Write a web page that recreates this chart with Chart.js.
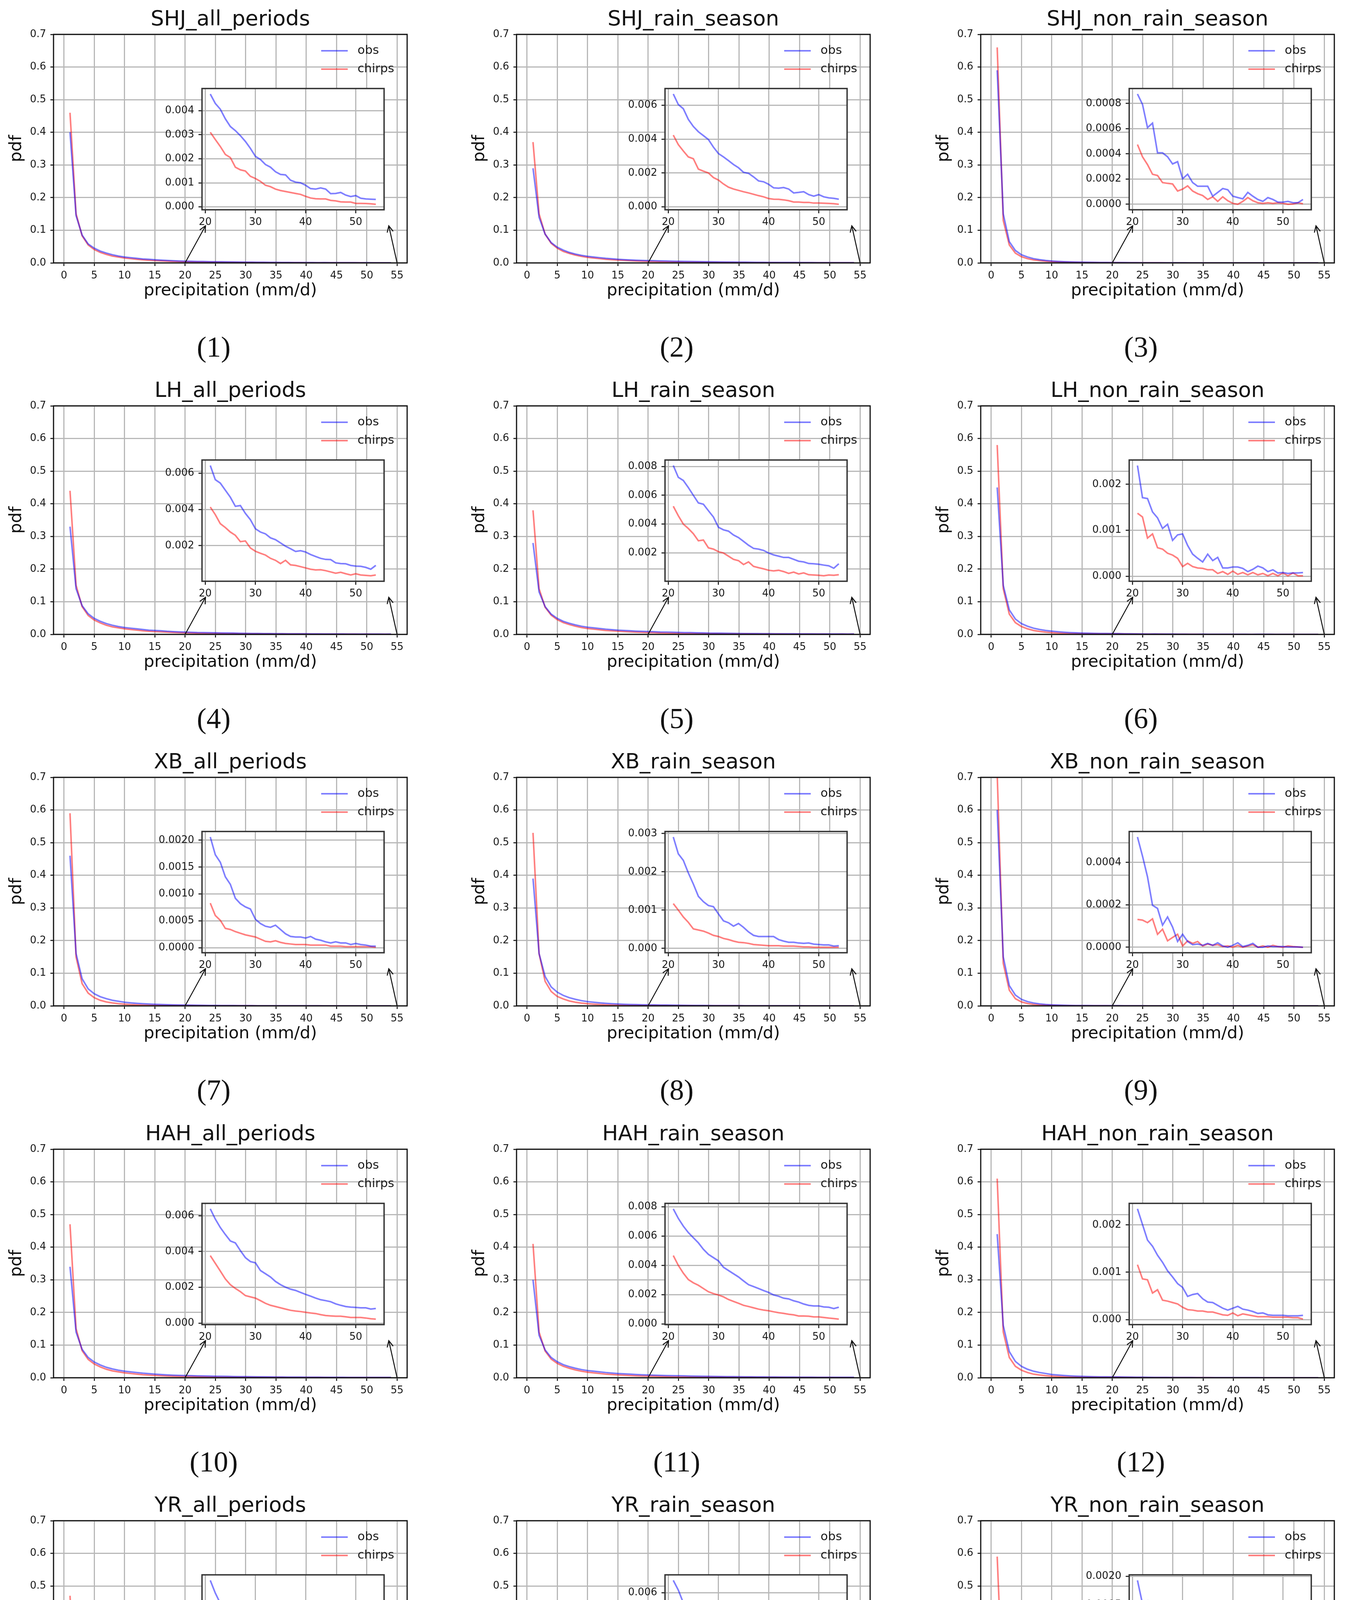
<!DOCTYPE html>
<html>
<head>
<meta charset="utf-8">
<script src="https://cdn.jsdelivr.net/npm/chart.js@4.4.1/dist/chart.umd.min.js"></script>
<style>
  html, body { margin: 0; padding: 0; background: #fff; }
  body { width: 3450px; height: 4765px; position: relative; overflow: hidden; }
  canvas { position: absolute; }
  .panel-label {
    position: absolute;
    font-family: "Liberation Serif", "DejaVu Serif", serif;
    font-size: 74px;
    color: #111;
    transform: translate(-50%, -50%);
    white-space: nowrap;
  }
</style>
</head>
<body>
<script>
// precipitation bins (mm/d)
const precip = [1,2,3,4,5,6,7,8,9,10,11,12,13,14,15,16,17,18,19,20,
  21,22,23,24,25,26,27,28,29,30,31,32,33,34,35,36,37,38,39,40,
  41,42,43,44,45,46,47,48,49,50,51,52,53,54];

const mainXTicks = [0,5,10,15,20,25,30,35,40,45,50,55];
const mainYTicks = [0,0.1,0.2,0.3,0.4,0.5,0.6,0.7];
const insetXTicks = [20,30,40,50];
const arrowFrom = [20,55];

const panelTitles = [
  "SHJ_all_periods","SHJ_rain_season","SHJ_non_rain_season",
  "LH_all_periods","LH_rain_season","LH_non_rain_season",
  "XB_all_periods","XB_rain_season","XB_non_rain_season",
  "HAH_all_periods","HAH_rain_season","HAH_non_rain_season",
  "YR_all_periods","YR_rain_season","YR_non_rain_season"
];

// inset y tick values and decimals per panel
const insetYTicks = [
  [0,0.001,0.002,0.003,0.004],
  [0,0.002,0.004,0.006],
  [0,0.0002,0.0004,0.0006,0.0008],
  [0,0.002,0.004,0.006],
  [0,0.002,0.004,0.006,0.008],
  [0,0.001,0.002],
  [0,0.0005,0.001,0.0015,0.002],
  [0,0.001,0.002,0.003],
  [0,0.0002,0.0004],
  [0,0.002,0.004,0.006],
  [0,0.002,0.004,0.006,0.008],
  [0,0.001,0.002],
  [0,0.002,0.004],
  [0,0.002,0.004,0.006],
  [0,0.0005,0.001,0.0015,0.002]
];
const insetDigits = [3,3,4,3,3,3,4,3,4,3,3,3,3,3,4];

// SHJ
const obs1 = [0.40,0.145,0.085,0.058,0.045,0.036,0.030,0.025,0.021,0.018,0.016,0.014,0.012,0.011,0.0095,0.0085,0.0075,0.0066,0.0058,0.0052,
  0.00469,0.00430,0.00406,0.00366,0.00334,0.00317,0.00296,0.00272,0.00243,0.00210,0.00197,0.00176,0.00165,0.00146,0.00135,0.00133,0.00111,
  0.00103,0.00100,0.00090,0.00076,0.00074,0.00079,0.00074,0.00055,0.00056,0.00060,0.00049,0.00043,0.00047,0.00036,0.00033,0.00032,0.00031];
const chirps1 = [0.46,0.15,0.083,0.055,0.041,0.032,0.026,0.021,0.018,0.015,0.013,0.011,0.0095,0.0082,0.0071,0.0062,0.0053,0.0046,0.0040,0.0035,
  0.00310,0.00280,0.00251,0.00218,0.00205,0.00165,0.00154,0.00149,0.00127,0.00118,0.00106,0.00090,0.00084,0.00074,0.00068,0.00064,0.00060,
  0.00056,0.00052,0.00044,0.00037,0.00034,0.00033,0.00033,0.00027,0.00025,0.00021,0.00020,0.00020,0.000145,0.000145,0.00014,0.00013,0.00011];
const obs2 = [0.29,0.14,0.088,0.062,0.048,0.039,0.032,0.027,0.023,0.020,0.018,0.016,0.014,0.0125,0.011,0.0100,0.0090,0.0082,0.0074,0.0070,
  0.00667,0.00605,0.00580,0.00517,0.00475,0.00444,0.00421,0.00398,0.00353,0.00315,0.00295,0.00273,0.00250,0.00231,0.00204,0.00198,0.00177,
  0.00153,0.00148,0.00133,0.00112,0.00110,0.00114,0.00105,0.00082,0.00085,0.00089,0.00072,0.00063,0.00072,0.00059,0.00053,0.00050,0.00045];
const chirps2 = [0.37,0.15,0.088,0.060,0.045,0.035,0.029,0.024,0.020,0.017,0.015,0.013,0.011,0.0098,0.0087,0.0077,0.0068,0.0060,0.0053,0.0047,
  0.00424,0.00368,0.00330,0.00295,0.00284,0.00223,0.00211,0.00200,0.00173,0.00158,0.00135,0.00116,0.00105,0.00097,0.00089,0.00082,0.00074,
  0.00066,0.00059,0.00049,0.00045,0.00044,0.00041,0.00036,0.00028,0.00028,0.00026,0.00026,0.00022,0.00022,0.00021,0.00020,0.00018,0.00015];
const obs3 = [0.59,0.15,0.065,0.038,0.025,0.018,0.013,0.0098,0.0075,0.0058,0.0046,0.0037,0.0030,0.0025,0.0021,0.0018,0.0015,0.0013,0.0011,0.0010,
  0.000875,0.000793,0.000608,0.000644,0.000408,0.000408,0.000377,0.000320,0.000338,0.000202,0.000238,0.000172,0.000143,0.000143,0.000143,0.000064,0.000094,
  0.000125,0.000115,0.000064,0.000053,0.000043,0.000094,0.000064,0.000038,0.000023,0.000053,0.000038,0.000017,0.000017,0.000023,0.000012,0.000012,0.000038];
const chirps3 = [0.66,0.13,0.055,0.030,0.019,0.013,0.0092,0.0068,0.0051,0.0039,0.0030,0.0024,0.0019,0.0015,0.0012,0.0010,0.00085,0.00072,0.00062,0.00054,
  0.000474,0.000377,0.000315,0.000238,0.000228,0.000172,0.000166,0.000161,0.000105,0.000120,0.000146,0.000105,0.000084,0.000069,0.000038,0.000059,0.000023,
  0.000059,0.000028,0.000007,0.000000,0.000023,0.000053,0.000028,0.000012,0.000007,0.000012,0.000007,0.000012,0.000007,0.000000,0.000002,0.000012,0.000004];

// LH
const obs4 = [0.33,0.14,0.088,0.063,0.049,0.040,0.033,0.028,0.024,0.021,0.019,0.017,0.015,0.013,0.012,0.011,0.0095,0.0085,0.0076,0.0069,
  0.00642,0.00564,0.00545,0.00506,0.00467,0.00417,0.00421,0.00378,0.00343,0.00293,0.00275,0.00265,0.00243,0.00233,0.00215,0.00197,0.00183,
  0.00168,0.00172,0.00165,0.00151,0.00140,0.00130,0.00124,0.00123,0.00105,0.00101,0.00100,0.00091,0.00087,0.00086,0.00080,0.00070,0.00091];
const chirps4 = [0.44,0.15,0.085,0.058,0.044,0.035,0.028,0.023,0.020,0.017,0.015,0.013,0.011,0.0097,0.0086,0.0077,0.0068,0.0060,0.0053,0.0047,
  0.00413,0.00371,0.00321,0.00300,0.00275,0.00257,0.00222,0.00226,0.00187,0.00169,0.00158,0.00148,0.00130,0.00119,0.00101,0.00119,0.00094,
  0.00091,0.00084,0.00077,0.00070,0.00066,0.00067,0.00062,0.00055,0.00048,0.00053,0.00045,0.00038,0.00045,0.00038,0.00036,0.00034,0.00038];
const obs5 = [0.28,0.13,0.085,0.062,0.049,0.040,0.034,0.029,0.025,0.022,0.020,0.018,0.016,0.0145,0.013,0.012,0.011,0.0100,0.0092,0.0086,
  0.00807,0.00725,0.00703,0.00654,0.00600,0.00547,0.00538,0.00493,0.00449,0.00378,0.00360,0.00351,0.00324,0.00306,0.00280,0.00253,0.00231,
  0.00226,0.00217,0.00199,0.00186,0.00177,0.00168,0.00168,0.00155,0.00142,0.00137,0.00126,0.00124,0.00121,0.00115,0.00110,0.00093,0.00124];
const chirps5 = [0.38,0.14,0.083,0.059,0.045,0.036,0.030,0.025,0.021,0.018,0.016,0.014,0.012,0.011,0.0098,0.0088,0.0078,0.0069,0.0062,0.0057,
  0.00524,0.00458,0.00400,0.00369,0.00333,0.00284,0.00289,0.00235,0.00226,0.00208,0.00199,0.00177,0.00155,0.00146,0.00119,0.00137,0.00106,
  0.00097,0.00089,0.00079,0.00075,0.00079,0.00070,0.00057,0.00066,0.00053,0.00061,0.00048,0.00046,0.00044,0.00041,0.00046,0.00044,0.00048];
const obs6 = [0.45,0.15,0.075,0.047,0.033,0.025,0.019,0.015,0.012,0.0098,0.0080,0.0066,0.0055,0.0047,0.0040,0.0035,0.0031,0.0028,0.0026,0.0025,
  0.00241,0.00171,0.00169,0.00140,0.00127,0.00104,0.00113,0.00078,0.00090,0.00092,0.00067,0.00048,0.00039,0.00031,0.00048,0.00034,0.00041,
  0.00018,0.00018,0.00020,0.00020,0.00017,0.00010,0.00015,0.00022,0.00018,0.00010,0.00014,0.00007,0.00008,0.00006,0.00007,0.00007,0.00008];
const chirps6 = [0.58,0.14,0.062,0.036,0.024,0.017,0.012,0.0090,0.0068,0.0053,0.0042,0.0034,0.0028,0.0024,0.0021,0.0019,0.0017,0.0016,0.0015,0.0014,
  0.00137,0.00129,0.00083,0.00092,0.00062,0.00059,0.00050,0.00046,0.00039,0.00021,0.00028,0.00021,0.00018,0.00017,0.00014,0.00014,0.00006,
  0.00010,0.00004,0.00011,0.00004,0.00008,0.00003,0.00008,0.00003,0.00006,0.00001,0.00006,0.00001,0.00007,0.00001,0.00007,0.00001,0.00001];

// XB
const obs7 = [0.46,0.16,0.083,0.052,0.037,0.028,0.022,0.017,0.014,0.011,0.0093,0.0078,0.0066,0.0056,0.0048,0.0041,0.0035,0.0030,0.0026,0.0023,
  0.00206,0.00173,0.00159,0.00132,0.00118,0.00092,0.00082,0.00076,0.00072,0.00053,0.00045,0.00040,0.00038,0.00042,0.00034,0.00026,0.00021,
  0.00020,0.00020,0.00018,0.00021,0.00016,0.00014,0.00011,0.00009,0.00011,0.00009,0.00009,0.00006,0.00008,0.00006,0.00005,0.00003,0.00003];
const chirps7 = [0.59,0.15,0.068,0.039,0.025,0.017,0.012,0.0089,0.0067,0.0051,0.0040,0.0032,0.0025,0.0020,0.0017,0.0014,0.0012,0.0011,0.0010,0.0009,
  0.00083,0.00060,0.00051,0.00036,0.00034,0.00030,0.00027,0.00024,0.00022,0.00020,0.00016,0.00012,0.00011,0.00013,0.00010,0.00008,0.00007,
  0.00006,0.00006,0.00006,0.00005,0.00005,0.00005,0.00005,0.00003,0.00003,0.00003,0.00002,0.00002,0.00002,0.00002,0.00002,0.00002,0.00001];
const obs8 = [0.39,0.16,0.090,0.058,0.042,0.032,0.025,0.020,0.016,0.013,0.011,0.0092,0.0078,0.0066,0.0057,0.0049,0.0043,0.0038,0.0034,0.0031,
  0.00291,0.00247,0.00230,0.00197,0.00168,0.00136,0.00122,0.00112,0.00109,0.00090,0.00072,0.00067,0.00058,0.00065,0.00055,0.00043,0.00034,
  0.00031,0.00031,0.00031,0.00031,0.00023,0.00019,0.00016,0.00016,0.00014,0.00013,0.00014,0.00011,0.00010,0.00009,0.00009,0.00006,0.00007];
const chirps8 = [0.53,0.16,0.075,0.044,0.029,0.021,0.015,0.011,0.0085,0.0066,0.0052,0.0042,0.0034,0.0028,0.0023,0.0019,0.0016,0.0014,0.0013,0.0012,
  0.00117,0.00100,0.00082,0.00068,0.00051,0.00048,0.00045,0.00040,0.00034,0.00031,0.00026,0.00023,0.00019,0.00016,0.00015,0.00013,0.00010,
  0.00009,0.00008,0.00007,0.00007,0.00007,0.00006,0.00006,0.00006,0.00005,0.00004,0.00004,0.00003,0.00003,0.00003,0.00003,0.00003,0.00003];
const obs9 = [0.60,0.15,0.062,0.033,0.020,0.013,0.0088,0.0061,0.0043,0.0031,0.0023,0.0017,0.0013,0.0010,0.0009,0.0008,0.0007,0.0006,0.00056,0.00053,
  0.000520,0.000430,0.000332,0.000198,0.000183,0.000104,0.000143,0.000095,0.000027,0.000061,0.000027,0.000012,0.000015,0.000009,0.000018,0.000009,0.000021,
  0.000006,0.000000,0.000009,0.000021,0.000003,0.000009,0.000018,0.000000,0.000000,0.000006,0.000003,0.000003,0.000003,0.000001,0.000001,0.000001,0.000000];
const chirps9 = [0.71,0.13,0.048,0.022,0.012,0.0072,0.0046,0.0030,0.0020,0.0014,0.0010,0.0007,0.0005,0.0004,0.0003,0.00025,0.0002,0.00017,0.00015,0.00014,
  0.000131,0.000128,0.000116,0.000134,0.000061,0.000085,0.000030,0.000046,0.000061,0.000006,0.000030,0.000018,0.000027,0.000006,0.000015,0.000009,0.000012,
  0.000003,0.000006,0.000000,0.000009,0.000000,0.000006,0.000012,0.000000,0.000006,0.000000,0.000009,0.000003,0.000000,0.000006,0.000003,0.000001,0.000000];

// HAH
const obs10 = [0.34,0.14,0.087,0.062,0.048,0.039,0.032,0.027,0.023,0.020,0.018,0.016,0.014,0.0125,0.011,0.0100,0.0088,0.0079,0.0071,0.0067,
  0.00638,0.00581,0.00534,0.00495,0.00459,0.00448,0.00405,0.00366,0.00344,0.00337,0.00294,0.00276,0.00258,0.00233,0.00215,0.00201,0.00190,
  0.00183,0.00172,0.00161,0.00151,0.00140,0.00131,0.00126,0.00120,0.00108,0.00100,0.00093,0.00090,0.00088,0.00086,0.00086,0.00079,0.00082];
const chirps10 = [0.47,0.15,0.083,0.056,0.042,0.033,0.026,0.021,0.018,0.015,0.013,0.011,0.0093,0.0081,0.0071,0.0062,0.0054,0.0048,0.0043,0.0040,
  0.00377,0.00334,0.00291,0.00247,0.00215,0.00194,0.00176,0.00154,0.00147,0.00140,0.00126,0.00111,0.00100,0.00093,0.00086,0.00079,0.00072,
  0.00068,0.00065,0.00061,0.00057,0.00054,0.00048,0.00043,0.00041,0.00039,0.00039,0.00036,0.00032,0.00032,0.00032,0.00029,0.00025,0.00023];
const obs11 = [0.30,0.13,0.085,0.062,0.049,0.040,0.034,0.029,0.025,0.022,0.020,0.018,0.016,0.0145,0.013,0.012,0.011,0.0098,0.0089,0.0083,
  0.00786,0.00721,0.00668,0.00624,0.00589,0.00554,0.00510,0.00475,0.00453,0.00431,0.00387,0.00365,0.00343,0.00321,0.00294,0.00268,0.00255,
  0.00242,0.00228,0.00215,0.00198,0.00189,0.00176,0.00171,0.00158,0.00149,0.00136,0.00127,0.00123,0.00123,0.00116,0.00114,0.00105,0.00114];
const chirps11 = [0.41,0.14,0.082,0.057,0.044,0.035,0.029,0.024,0.020,0.017,0.015,0.013,0.011,0.0098,0.0087,0.0077,0.0068,0.0060,0.0054,0.0050,
  0.00467,0.00400,0.00347,0.00303,0.00281,0.00264,0.00242,0.00220,0.00207,0.00198,0.00185,0.00167,0.00154,0.00141,0.00127,0.00119,0.00110,
  0.00101,0.00095,0.00090,0.00083,0.00077,0.00072,0.00066,0.00062,0.00054,0.00054,0.00053,0.00048,0.00048,0.00044,0.00040,0.00037,0.00033];
const obs12 = [0.44,0.16,0.080,0.050,0.035,0.026,0.020,0.016,0.013,0.010,0.0085,0.0070,0.0058,0.0049,0.0042,0.0036,0.0031,0.0028,0.0026,0.0024,
  0.00234,0.00201,0.00168,0.00155,0.00136,0.00121,0.00103,0.00090,0.00076,0.00068,0.00049,0.00053,0.00055,0.00044,0.00037,0.00036,0.00030,
  0.00024,0.00020,0.00024,0.00028,0.00022,0.00020,0.00017,0.00013,0.00014,0.00010,0.00009,0.00009,0.00009,0.00008,0.00008,0.00008,0.00009];
const chirps12 = [0.61,0.14,0.062,0.035,0.023,0.016,0.011,0.0083,0.0063,0.0049,0.0038,0.0031,0.0025,0.0021,0.0018,0.0016,0.0014,0.0013,0.0012,0.0012,
  0.00116,0.00086,0.00084,0.00056,0.00063,0.00041,0.00039,0.00036,0.00033,0.00026,0.00021,0.00020,0.00018,0.00018,0.00016,0.00016,0.00013,
  0.00010,0.00009,0.00014,0.00008,0.00012,0.00010,0.00008,0.00006,0.00006,0.00006,0.00005,0.00005,0.00005,0.00005,0.00004,0.00004,0.00001];

// YR
const obs13 = [0.35,0.15,0.090,0.063,0.048,0.038,0.031,0.026,0.022,0.019,0.016,0.014,0.012,0.011,0.0095,0.0085,0.0075,0.0066,0.0059,0.0055,
  0.00525,0.00466,0.00418,0.00379,0.00343,0.00319,0.00290,0.00272,0.00242,0.00215,0.00203,0.00176,0.00161,0.00149,0.00140,0.00131,0.00122,
  0.00113,0.00104,0.00093,0.00090,0.00087,0.00079,0.00075,0.00069,0.00063,0.00060,0.00054,0.00051,0.00048,0.00042,0.00039,0.00040,0.00042];
const chirps13 = [0.47,0.15,0.083,0.055,0.040,0.031,0.025,0.020,0.017,0.014,0.012,0.010,0.0087,0.0075,0.0064,0.0055,0.0047,0.0040,0.0035,0.0032,
  0.00299,0.00242,0.00212,0.00179,0.00161,0.00146,0.00125,0.00113,0.00107,0.00101,0.00084,0.00078,0.00072,0.00066,0.00060,0.00054,0.00051,
  0.00046,0.00042,0.00036,0.00036,0.00034,0.00030,0.00027,0.00024,0.00022,0.00021,0.00020,0.00018,0.00016,0.00016,0.00016,0.00015,0.00012];
const obs14 = [0.30,0.13,0.086,0.062,0.048,0.039,0.033,0.028,0.024,0.021,0.019,0.017,0.015,0.013,0.012,0.011,0.0096,0.0086,0.0077,0.0071,
  0.00673,0.00615,0.00539,0.00516,0.00463,0.00424,0.00386,0.00363,0.00325,0.00283,0.00279,0.00229,0.00206,0.00191,0.00176,0.00164,0.00157,
  0.00141,0.00126,0.00119,0.00111,0.00107,0.00099,0.00092,0.00084,0.00080,0.00073,0.00069,0.00069,0.00061,0.00054,0.00054,0.00057,0.00059];
const chirps14 = [0.41,0.14,0.082,0.057,0.043,0.034,0.028,0.023,0.019,0.016,0.014,0.012,0.010,0.0090,0.0079,0.0069,0.0060,0.0052,0.0046,0.0042,
  0.00394,0.00340,0.00294,0.00256,0.00233,0.00203,0.00191,0.00157,0.00149,0.00138,0.00130,0.00107,0.00099,0.00088,0.00080,0.00069,0.00065,
  0.00057,0.00051,0.00046,0.00050,0.00044,0.00038,0.00034,0.00031,0.00028,0.00027,0.00025,0.00023,0.00023,0.00023,0.00021,0.00019,0.00015];
const obs15 = [0.45,0.16,0.078,0.049,0.034,0.025,0.019,0.015,0.012,0.0095,0.0078,0.0064,0.0053,0.0045,0.0038,0.0032,0.0028,0.0024,0.0021,0.0020,
  0.00193,0.00152,0.00157,0.00113,0.00111,0.00090,0.00081,0.00072,0.00062,0.00052,0.00046,0.00041,0.00034,0.00028,0.00027,0.00025,0.00021,
  0.00016,0.00016,0.00018,0.00015,0.00016,0.00013,0.00010,0.00007,0.00006,0.00007,0.00009,0.00005,0.00006,0.00005,0.00005,0.00004,0.00000];
const chirps15 = [0.59,0.14,0.063,0.036,0.023,0.016,0.011,0.0082,0.0061,0.0046,0.0035,0.0027,0.0021,0.0017,0.0014,0.0012,0.0010,0.0009,0.00085,0.0008,
  0.00080,0.00087,0.00060,0.00047,0.00041,0.00036,0.00037,0.00032,0.00018,0.00028,0.00022,0.00019,0.00016,0.00015,0.00014,0.00012,0.00010,
  0.00008,0.00007,0.00007,0.00007,0.00006,0.00006,0.00005,0.00005,0.00004,0.00006,0.00004,0.00005,0.00005,0.00004,0.00004,0.00003,0.00000];

const obsSeries = [obs1,obs2,obs3,obs4,obs5,obs6,obs7,obs8,obs9,obs10,obs11,obs12,obs13,obs14,obs15];
const chirpsSeries = [chirps1,chirps2,chirps3,chirps4,chirps5,chirps6,chirps7,chirps8,chirps9,chirps10,chirps11,chirps12,chirps13,chirps14,chirps15];

// layout (page pixels)
const colLeft = [137, 1322, 2510];
const rowTop = [88, 1039, 1990, 2942, 3893];
const PW = 905, PH = 585;           // main plot area
const YW = 130, XH = 110, TITLE_H = 69, PAD_R = 40;
const INSET = { dx: 380, dy: 137, w: 466, h: 312 };
const IL = 130, IR = 30, IT = 25, IB = 70;

const FONT = "DejaVu Sans";
const GRID = "#b8b8b8";
const TXT = "#1a1a1a";
const OBS_COLOR = "rgba(0,0,255,0.5)";
const CHIRPS_COLOR = "rgba(255,0,0,0.5)";

function lineDataset(label, xs, ys, color) {
  return {
    label,
    data: xs.map((x, k) => ({ x, y: ys[k] })),
    borderColor: color,
    borderWidth: 4,
    pointRadius: 0,
    fill: false,
    tension: 0
  };
}

function drawArrow(ctx, x0, y0, x1, y1) {
  const ang = Math.atan2(y1 - y0, x1 - x0);
  ctx.beginPath();
  ctx.moveTo(x0, y0);
  ctx.lineTo(x1, y1);
  ctx.moveTo(x1 - 18 * Math.cos(ang - 0.45), y1 - 18 * Math.sin(ang - 0.45));
  ctx.lineTo(x1, y1);
  ctx.lineTo(x1 - 18 * Math.cos(ang + 0.45), y1 - 18 * Math.sin(ang + 0.45));
  ctx.stroke();
}

// frame, legend and the two pointer arrows of the main axes
const mainDecor = {
  id: "mainDecor",
  afterDraw(chart) {
    const { ctx, chartArea: a, scales } = chart;
    ctx.save();
    ctx.strokeStyle = "#111";
    ctx.lineWidth = 3;
    ctx.strokeRect(a.left, a.top, a.right - a.left, a.bottom - a.top);

    const items = [["obs", OBS_COLOR, 42], ["chirps", CHIRPS_COLOR, 89]];
    ctx.font = `31px "${FONT}"`;
    ctx.textBaseline = "middle";
    ctx.textAlign = "left";
    items.forEach(([t, c, dy]) => {
      ctx.strokeStyle = c;
      ctx.lineWidth = 4;
      ctx.beginPath();
      ctx.moveTo(a.left + 685, a.top + dy);
      ctx.lineTo(a.left + 753, a.top + dy);
      ctx.stroke();
      ctx.fillStyle = TXT;
      ctx.fillText(t, a.left + 778, a.top + dy);
    });

    ctx.strokeStyle = "#111";
    ctx.lineWidth = 2.5;
    const y0 = scales.y.getPixelForValue(0);
    const tipX = [389, 858];
    arrowFrom.forEach((xv, k) => {
      drawArrow(ctx, scales.x.getPixelForValue(xv), y0, a.left + tipX[k], a.top + 490);
    });
    ctx.restore();
  }
};

const insetDecor = {
  id: "insetDecor",
  beforeDraw(chart) {
    const { ctx, chartArea: a } = chart;
    ctx.save();
    ctx.fillStyle = "#fff";
    ctx.fillRect(a.left, a.top, a.right - a.left, a.bottom - a.top);
    ctx.restore();
  },
  afterDraw(chart) {
    const { ctx, chartArea: a } = chart;
    ctx.save();
    ctx.strokeStyle = "#333";
    ctx.lineWidth = 3.5;
    ctx.strokeRect(a.left, a.top, a.right - a.left, a.bottom - a.top);
    ctx.restore();
  }
};

function addCanvas(left, top, w, h) {
  const cv = document.createElement("canvas");
  cv.width = w;
  cv.height = h;
  cv.style.left = left + "px";
  cv.style.top = top + "px";
  cv.style.width = w + "px";
  cv.style.height = h + "px";
  document.body.appendChild(cv);
  return cv;
}

function tickFont(size) {
  return { family: FONT, size: size };
}

function makeMain(i, left, top) {
  const W = YW + PW + PAD_R, H = TITLE_H + PH + XH;
  const cv = addCanvas(left - YW, top - TITLE_H, W, H);
  new Chart(cv, {
    type: "line",
    data: {
      datasets: [
        lineDataset("obs", precip, obsSeries[i], OBS_COLOR),
        lineDataset("chirps", precip, chirpsSeries[i], CHIRPS_COLOR)
      ]
    },
    options: {
      responsive: false,
      animation: false,
      devicePixelRatio: 1,
      layout: { padding: { left: 0, right: PAD_R, top: 0, bottom: 0 } },
      plugins: {
        legend: { display: false },
        tooltip: { enabled: false },
        title: {
          display: true,
          text: panelTitles[i],
          fullSize: false,
          color: "#111",
          font: { family: FONT, size: 54, weight: "normal", lineHeight: 1.2 },
          padding: { top: 0, bottom: 4.2 }
        }
      },
      scales: {
        x: {
          type: "linear",
          min: -1.72,
          max: 56.66,
          afterBuildTicks: s => { s.ticks = mainXTicks.map(v => ({ value: v })); },
          afterFit: s => { s.height = XH; },
          ticks: { font: tickFont(26), color: TXT, padding: 10, maxRotation: 0, autoSkip: false,
                   callback: v => String(v) },
          grid: { color: GRID, lineWidth: 3, tickLength: 8, tickColor: "#111", tickWidth: 2.5 },
          border: { display: false },
          title: { display: true, text: "precipitation (mm/d)", color: "#111",
                   font: { family: FONT, size: 43 }, padding: { top: 0, bottom: 12 } }
        },
        y: {
          min: 0,
          max: 0.7,
          afterBuildTicks: s => { s.ticks = mainYTicks.map(v => ({ value: v })); },
          afterFit: s => { s.width = YW; },
          ticks: { font: tickFont(26), color: TXT, padding: 11, autoSkip: false,
                   callback: v => Number(v).toFixed(1) },
          grid: { color: GRID, lineWidth: 3, tickLength: 8, tickColor: "#111", tickWidth: 2.5 },
          border: { display: false },
          title: { display: true, text: "pdf", color: "#111",
                   font: { family: FONT, size: 43 }, padding: { top: 10, bottom: 0 } }
        }
      }
    },
    plugins: [mainDecor]
  });
}

function makeInset(i, left, top) {
  const x0 = left + INSET.dx, y0 = top + INSET.dy;
  const W = IL + INSET.w + IR, H = IT + INSET.h + IB;
  const cv = addCanvas(x0 - IL, y0 - IT, W, H);
  const xs = precip.slice(20);
  const o = obsSeries[i].slice(20);
  const c = chirpsSeries[i].slice(20);
  const lo = Math.min(...o, ...c), hi = Math.max(...o, ...c);
  const pad = (hi - lo) * 0.05;
  const ymin = lo - pad, ymax = hi + pad;
  new Chart(cv, {
    type: "line",
    data: {
      datasets: [
        lineDataset("obs", xs, o, OBS_COLOR),
        lineDataset("chirps", xs, c, CHIRPS_COLOR)
      ]
    },
    options: {
      responsive: false,
      animation: false,
      devicePixelRatio: 1,
      layout: { padding: { left: 0, right: IR, top: IT, bottom: 0 } },
      plugins: { legend: { display: false }, tooltip: { enabled: false }, title: { display: false } },
      scales: {
        x: {
          type: "linear",
          min: 19.35,
          max: 55.65,
          afterBuildTicks: s => { s.ticks = insetXTicks.map(v => ({ value: v })); },
          afterFit: s => { s.height = IB; },
          ticks: { font: tickFont(26), color: TXT, padding: 8, maxRotation: 0, autoSkip: false,
                   callback: v => String(v) },
          grid: { color: GRID, lineWidth: 3, tickLength: 9, tickColor: "#111", tickWidth: 2.5 },
          border: { display: false }
        },
        y: {
          min: ymin,
          max: ymax,
          afterBuildTicks: s => {
            s.ticks = insetYTicks[i].filter(v => v >= ymin && v <= ymax).map(v => ({ value: v }));
          },
          afterFit: s => { s.width = IL; },
          ticks: { font: tickFont(26), color: TXT, padding: 11, autoSkip: false,
                   callback: v => Number(v).toFixed(insetDigits[i]) },
          grid: { color: GRID, lineWidth: 3, tickLength: 9, tickColor: "#111", tickWidth: 2.5 },
          border: { display: false }
        }
      }
    },
    plugins: [insetDecor]
  });
}

panelTitles.forEach((t, i) => {
  const left = colLeft[i % 3];
  const top = rowTop[Math.floor(i / 3)];
  makeMain(i, left, top);
  makeInset(i, left, top);
  const lab = document.createElement("div");
  lab.className = "panel-label";
  lab.textContent = "(" + (i + 1) + ")";
  lab.style.left = (left + 410) + "px";
  lab.style.top = (top + 800) + "px";
  document.body.appendChild(lab);
});
</script>
</body>
</html>
